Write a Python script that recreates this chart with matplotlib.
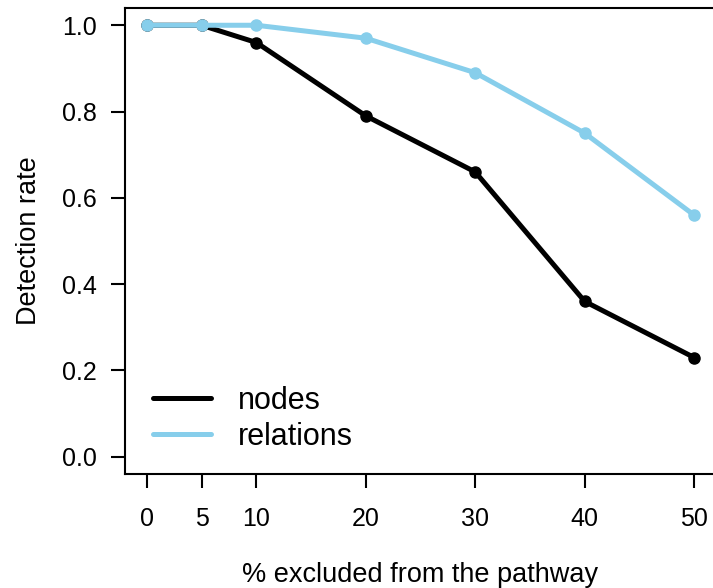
import matplotlib
matplotlib.use("Agg")
import matplotlib.pyplot as plt

plt.rcParams['font.family'] = ['Liberation Sans', 'DejaVu Sans']

# data
excluded = [0, 5, 10, 20, 30, 40, 50]
nodes = [1.0, 1.0, 0.96, 0.79, 0.66, 0.36, 0.23]
relations = [1.0, 1.0, 1.0, 0.97, 0.89, 0.75, 0.56]
yticks = [0.0, 0.2, 0.4, 0.6, 0.8, 1.0]

W, H = 713, 588
fig = plt.figure(figsize=(W / 100, H / 100), dpi=100)
# box spans beyond the right edge like the cropped original
ax = fig.add_axes([125 / W, 1 - 474 / H, (716 - 125) / W, (474 - 8) / H])

ax.plot(excluded, nodes, color='black', lw=3.6, marker='o', ms=8, label='nodes',
        solid_capstyle='round')
ax.plot(excluded, relations, color='#87CEEB', lw=3.6, marker='o', ms=8,
        label='relations', solid_capstyle='round')

ax.set_xlim(-2, 52)
ax.set_ylim(-0.04, 1.04)
ax.set_xticks(excluded)
ax.set_yticks(yticks)
ax.set_yticklabels([f"{v:.1f}" for v in yticks])

for s in ax.spines.values():
    s.set_linewidth(1.5)
ax.tick_params(direction='out', length=10, width=1.5, labelsize=18)
ax.tick_params(axis='x', pad=14)
ax.tick_params(axis='y', pad=10)

ax.set_xlabel('% excluded from the pathway', fontsize=19.5, labelpad=22)
ax.set_ylabel('Detection rate', fontsize=19.5, labelpad=15)

leg = ax.legend(loc='lower left', bbox_to_anchor=(0.0, -0.012), frameon=False,
                fontsize=22, handlelength=1.9, handletextpad=0.9,
                labelspacing=0.2)
for h in leg.get_lines():
    h.set_marker('')

fig.savefig('out.png', dpi=100)
